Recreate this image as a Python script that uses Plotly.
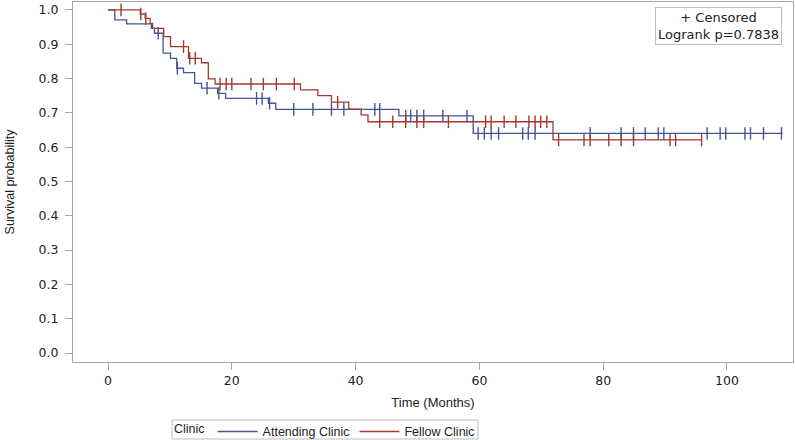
import numpy as np
import plotly.graph_objects as go

# ---- data ----
att_time = [0, 1.1, 3.0, 7.0, 7.5, 8.9, 10.1, 11.1, 12.2, 14.0, 15.1, 17.7, 19.0, 25.9, 27.1, 47.0, 59.0, 109.0]
att_surv = [1.0, 0.971, 0.959, 0.946, 0.932, 0.874, 0.859, 0.830, 0.817, 0.786, 0.772, 0.757, 0.742, 0.728, 0.710, 0.691, 0.640, 0.640]
att_censor = [8.1, 11.2, 16.0, 17.9, 24.0, 24.9, 26.1, 30.0, 33.1, 36.1, 38.1, 43.1, 43.9, 48.1, 48.9,
              49.9, 51.0, 54.1, 58.0, 59.8, 60.8, 61.9, 63.1, 67.0, 67.9, 69.0, 77.9, 82.9, 84.9, 86.8,
              88.9, 89.8, 96.8, 98.9, 99.8, 102.9, 103.8, 105.9, 108.8]

fel_time = [0, 5.2, 6.0, 6.8, 7.2, 9.0, 10.1, 13.0, 15.1, 16.2, 17.3, 31.1, 33.9, 36.1, 38.9, 40.9, 42.0, 71.9, 96.0]
fel_surv = [1.0, 0.988, 0.975, 0.961, 0.946, 0.922, 0.893, 0.859, 0.846, 0.799, 0.784, 0.767, 0.750, 0.731, 0.711, 0.694, 0.674, 0.621, 0.621]
fel_censor = [2.1, 5.3, 6.1, 12.2, 13.2, 14.1, 18.1, 19.1, 20.0, 23.1, 25.1, 27.2, 30.1, 37.1, 43.9, 46.0,
              48.1, 49.9, 51.0, 55.0, 61.0, 61.9, 64.0, 65.9, 68.0, 69.0, 69.9, 70.9, 72.8, 76.9, 77.9,
              80.9, 82.9, 84.9, 90.8, 91.7, 95.9]

groups = ["Attending Clinic", "Fellow Clinic"]
colors = ["#445694", "#A23A2E"]
x_ticks = [0, 20, 40, 60, 80, 100]
y_ticks = [0.0, 0.1, 0.2, 0.3, 0.4, 0.5, 0.6, 0.7, 0.8, 0.9, 1.0]


def step_at(times, surv, t):
    idx = np.searchsorted(np.array(times), t, side="right") - 1
    return [surv[i] for i in idx]


WIDE = "DejaVu Sans, Arial, sans-serif"
NARROW = "Liberation Sans, Arial, sans-serif"
TXT = "#222"
W, H = 795, 440
ML, MR, MT, MB = 73, 2, 2, 78
PW, PH = W - ML - MR, H - MT - MB


def px2paper_x(px):
    return (px - ML) / PW


def px2paper_y(py):
    return (H - MB - py) / PH


fig = go.Figure()
series = [(att_time, att_surv, att_censor), (fel_time, fel_surv, fel_censor)]
for name, col, (tt, ss, cc) in zip(groups, colors, series):
    fig.add_trace(go.Scatter(x=tt, y=ss, mode="lines", line=dict(color=col, width=1.3, shape="hv"),
                             name=name, legendgroup=name))
for name, col, (tt, ss, cc) in zip(groups, colors, series):
    fig.add_trace(go.Scatter(x=cc, y=step_at(tt, ss, cc), mode="markers",
                             marker=dict(symbol="line-ns", size=9, line=dict(color=col, width=1.4)),
                             showlegend=False, legendgroup=name, hoverinfo="skip"))

axis_common = dict(showgrid=False, zeroline=False, showline=True, mirror=True, automargin=False,
                   linecolor="#a6a6a6", linewidth=1, ticks="outside", ticklen=7,
                   tickcolor="#a6a6a6", tickfont=dict(family=WIDE, size=12.5, color=TXT))
fig.update_xaxes(range=[-5.66, 110.67], tickvals=x_ticks, ticktext=[str(v) for v in x_ticks],
                 title=dict(text="Time (Months)", font=dict(family=NARROW, size=13, color=TXT), standoff=10),
                 **axis_common)
fig.update_yaxes(range=[-0.026, 1.023], tickvals=y_ticks, ticktext=[f"{v:.1f}" for v in y_ticks],
                 ticklabelstandoff=4,
                 title=dict(text="Survival probability", font=dict(family=NARROW, size=12.5, color=TXT), standoff=21),
                 **axis_common)

fig.add_annotation(xref="paper", yref="paper", x=0.985, y=0.985, xanchor="right", yanchor="top",
                   text="+ Censored<br>Logrank p=0.7838", showarrow=False, align="center",
                   font=dict(family=WIDE, size=13, color=TXT),
                   bordercolor="#bdbdbd", borderwidth=1, borderpad=2, bgcolor="white")

# legend frame (drawn as a shape so it can be as tight as the reference)
fig.add_shape(type="rect", xref="paper", yref="paper",
              x0=px2paper_x(172), x1=px2paper_x(478), y0=px2paper_y(439), y1=px2paper_y(420),
              line=dict(color="#bdbdbd", width=1), fillcolor="rgba(0,0,0,0)", layer="above")

fig.update_layout(
    width=W, height=H,
    margin=dict(l=ML, r=MR, t=MT, b=MB, autoexpand=False),
    plot_bgcolor="white", paper_bgcolor="white",
    font=dict(family=NARROW, color=TXT),
    legend=dict(orientation="h", xref="container", yref="container", x=0.2164, y=0.0185,
                xanchor="left", yanchor="middle", bgcolor="rgba(0,0,0,0)",
                title=dict(text="Clinic", font=dict(size=12.5, family=NARROW, color=TXT)),
                font=dict(size=12.5, family=NARROW, color=TXT), borderwidth=0,
                itemwidth=40, tracegroupgap=0),
)
fig.write_html("out.html", config={"displayModeBar": False},
               post_script="document.body.style.margin='0';document.body.style.overflow='hidden';")
